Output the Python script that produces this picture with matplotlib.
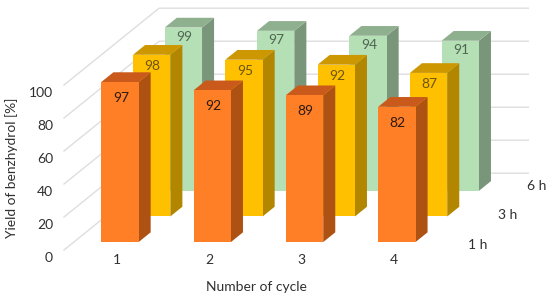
import matplotlib
matplotlib.use("Agg")
import matplotlib.pyplot as plt
from matplotlib.patches import Polygon

plt.rcParams["font.family"] = ["Lato", "DejaVu Sans"]

cycles = ["1", "2", "3", "4"]
series_names = ["1 h", "3 h", "6 h"]
yield_1h = [97, 92, 89, 82]
yield_3h = [98, 95, 92, 87]
yield_6h = [99, 97, 94, 91]
y_ticks = [0, 20, 40, 60, 80, 100]

# projection of the fake-3D box, in image pixels
X0, Y0 = 64.0, 250.0
PX_CYCLE = 92.3
PX_VALUE = 1.65
PX_DEPTH_X = 31.7
PX_DEPTH_Y = 25.6
BAR_W = 0.404
BAR_D = 0.38


def proj(c, d, v):
    return (X0 + c * PX_CYCLE + d * PX_DEPTH_X,
            Y0 - d * PX_DEPTH_Y - v * PX_VALUE)


def draw_bar(ax, c, d, v, front, top, side):
    c0, c1 = c - BAR_W / 2, c + BAR_W / 2
    d1 = d + BAR_D
    ax.add_patch(Polygon([proj(c1, d, 0), proj(c1, d1, 0), proj(c1, d1, v), proj(c1, d, v)],
                         facecolor=side, edgecolor="none", zorder=3))
    ax.add_patch(Polygon([proj(c0, d, v), proj(c1, d, v), proj(c1, d1, v), proj(c0, d1, v)],
                         facecolor=top, edgecolor="none", zorder=3))
    ax.add_patch(Polygon([proj(c0, d, 0), proj(c1, d, 0), proj(c1, d, v), proj(c0, d, v)],
                         facecolor=front, edgecolor="none", zorder=3))


fig = plt.figure(figsize=(5.5, 2.99), dpi=100)
ax = fig.add_axes([0, 0, 1, 1])
ax.set_xlim(0, 550)
ax.set_ylim(299, 0)
ax.axis("off")

# walls
for v in y_ticks:
    ax.plot(*zip(proj(0, 0, v), proj(0, 3, v), proj(4, 3, v)),
            color="#dedede", linewidth=1.0, solid_joinstyle="miter", zorder=1)

# back to front: (values, depth, front, top, side, label colour, label drop)
rows = [
    (yield_6h, 2.31, "#b5e0b5", "#8fb08f", "#7a967a", "#4f6652", 9),
    (yield_3h, 1.31, "#ffc000", "#cc9700", "#b38600", "#6b5510", 11),
    (yield_1h, 0.31, "#ff7f27", "#c95a1b", "#ad5213", "#2a1a10", 16),
]
for vals, d, front, top, side, lab, drop in rows:
    for i, v in enumerate(vals):
        draw_bar(ax, i + 0.5, d, v, front, top, side)
        x, y = proj(i + 0.5, d, v)
        ax.text(x + 1, y + drop, str(v), color=lab, fontsize=10,
                ha="center", va="center", zorder=4)

txt = "#303030"
for v in y_ticks:
    x, y = proj(0, 0, v)
    ax.text(53, y + 8, str(v), color=txt, fontsize=10, ha="right", va="center")
for i, name in enumerate(cycles):
    x, _ = proj(i + 0.5, 0.31, 0)
    ax.text(x - 3, 260, name, color=txt, fontsize=10, ha="center", va="center")
for name, x, y in zip(series_names, [487, 517, 546], [245, 215, 186]):
    ax.text(x, y, name, color=txt, fontsize=10, ha="right", va="center")

ax.text(12, 168, "Yield of benzhydrol [%]", color=txt, fontsize=9.9,
        rotation=90, ha="center", va="center")
ax.text(256, 287, "Number of cycle", color=txt, fontsize=10,
        ha="center", va="center")

fig.savefig("out.png", dpi=100)
